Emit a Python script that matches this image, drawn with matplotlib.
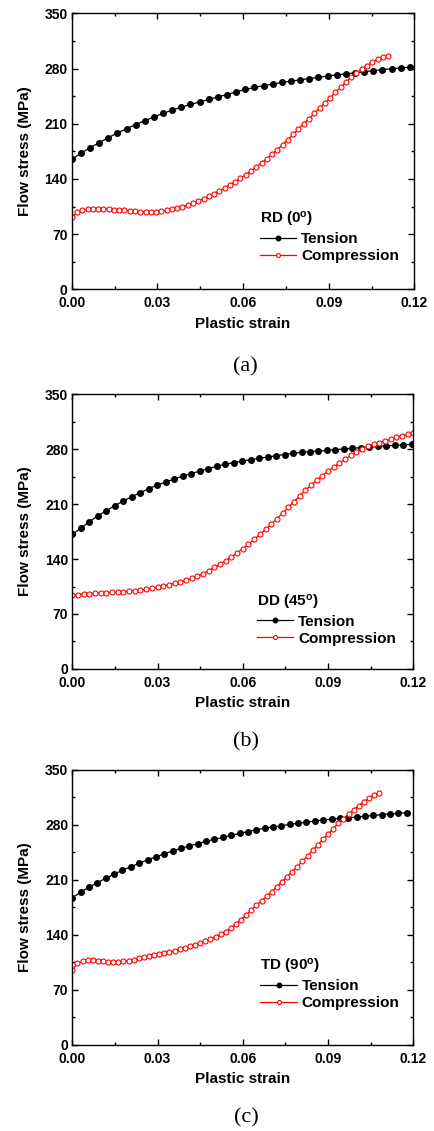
import numpy as np
import matplotlib
matplotlib.use("Agg")
import matplotlib.pyplot as plt
from matplotlib.ticker import MultipleLocator, FormatStrFormatter

# Flow stress (MPa) versus plastic strain, three loading directions
tension_rd = [165.0, 172.4, 179.5, 186.0, 192.2, 198.4, 203.6, 209.0, 213.8, 218.7,
              223.0, 227.2, 231.0, 234.5, 237.6, 240.8, 244.0, 247.0, 250.5, 253.5,
              256.0, 258.3, 260.3, 262.3, 264.0, 265.7, 267.3, 268.9, 270.5, 272.0,
              273.3, 274.6, 275.9, 277.3, 278.5, 279.7, 280.7, 281.8]
compression_rd = [92.0, 97.5, 100.0, 101.5, 102.2, 102.3, 102.0, 101.5, 101.0, 100.5,
                  100.0, 99.5, 99.0, 98.6, 98.4, 98.4, 98.6, 99.2, 100.2, 101.5,
                  103.0, 104.8, 107.0, 109.5, 112.2, 115.0, 118.0, 121.3, 124.8, 128.6,
                  132.5, 136.6, 141.0, 145.5, 150.0, 155.0, 160.3, 165.7, 171.4, 177.3,
                  183.5, 190.0, 196.6, 203.4, 210.0, 216.5, 223.0, 229.9, 236.5, 242.8,
                  250.0, 256.0, 263.0, 269.5, 274.5, 279.5, 283.7, 288.0, 291.8, 294.7,
                  296.2]

tension_dd = [171.4, 179.0, 187.5, 194.7, 201.5, 207.9, 213.8, 219.3, 224.4, 229.5,
              234.2, 238.0, 241.8, 245.6, 248.6, 252.0, 255.0, 258.0, 260.5, 262.6,
              264.7, 266.4, 268.1, 269.8, 271.5, 273.0, 274.5, 275.8, 276.7, 277.5,
              278.3, 279.1, 280.0, 280.9, 281.7, 282.5, 283.3, 284.1, 284.7, 285.2,
              286.0]
compression_dd = [94.0, 94.6, 95.3, 95.8, 96.2, 96.6, 97.0, 97.4, 97.8, 98.3,
                  98.9, 99.6, 100.5, 101.6, 102.8, 104.1, 105.6, 107.3, 109.1, 111.0,
                  113.0, 115.2, 118.0, 121.5, 125.2, 129.4, 133.6, 137.9, 142.5, 148.0,
                  153.1, 158.7, 165.0, 171.4, 177.8, 184.2, 191.3, 198.5, 205.8, 212.9,
                  220.2, 227.4, 233.8, 240.2, 246.0, 252.0, 257.1, 262.2, 266.9, 272.0,
                  276.2, 280.4, 283.4, 286.0, 288.0, 290.2, 292.3, 294.9, 296.9, 298.7,
                  300.0]

tension_td = [187.3, 194.3, 200.6, 206.5, 212.0, 217.3, 222.2, 226.8, 231.2, 235.4,
              239.3, 243.2, 246.8, 250.2, 253.2, 256.2, 259.0, 261.6, 264.2, 266.8,
              269.1, 271.6, 273.9, 275.8, 277.4, 279.0, 280.6, 282.1, 283.6, 285.0,
              286.3, 287.3, 288.3, 289.2, 290.1, 291.1, 292.1, 293.1, 294.0, 294.8,
              295.6]
compression_td = [95.0, 103.5, 106.3, 107.3, 107.4, 107.0, 106.5, 106.0, 105.7, 105.8,
                  106.3, 107.2, 108.5, 110.0, 111.5, 112.8, 114.1, 115.4, 116.7, 118.1,
                  119.9, 121.6, 123.4, 125.3, 127.5, 129.8, 132.3, 134.8, 137.6, 140.6,
                  144.2, 148.5, 154.0, 159.5, 165.5, 171.8, 177.5, 183.3, 189.0, 195.0,
                  201.5, 207.9, 214.0, 220.5, 227.0, 233.8, 240.8, 247.7, 254.7, 261.6,
                  268.2, 275.1, 282.2, 288.1, 293.7, 299.2, 304.7, 309.7, 313.8, 317.7,
                  320.9]

# last recorded plastic strain of each test (samples are evenly spaced from 0)
tension_end = [0.1184, 0.1195, 0.1177]
compression_end = [0.1108, 0.1200, 0.1080]

directions = ["RD (0$^\\mathrm{o}$)", "DD (45$^\\mathrm{o}$)", "TD (90$^\\mathrm{o}$)"]
panel_tags = ["(a)", "(b)", "(c)"]
series_names = ["Tension", "Compression"]
x_ticks = [0.00, 0.03, 0.06, 0.09, 0.12]
y_ticks = [0, 70, 140, 210, 280, 350]

plt.rcParams.update({
    "font.family": ["Liberation Sans", "DejaVu Sans"],
    "font.weight": "bold",
    "axes.labelweight": "bold",
    "mathtext.fontset": "custom",
    "mathtext.rm": "Liberation Sans:bold",
    "mathtext.bf": "Liberation Sans:bold",
    "mathtext.it": "Liberation Sans:bold",
})

fig = plt.figure(figsize=(4.35, 11.31), dpi=100)

axes_boxes = [
    [0.1648, 0.7442, 0.7878, 0.2440],
    [0.1662, 0.4085, 0.7839, 0.2431],
    [0.1662, 0.0763, 0.7839, 0.2429],
]
legend_anchor = [(0.549, 0.287), (0.541, 0.278), (0.551, 0.320)]
tag_pos = [(0.563, 0.6758), (0.5655, 0.3442), (0.5655, 0.0115)]

tensions = [tension_rd, tension_dd, tension_td]
compressions = [compression_rd, compression_dd, compression_td]

for k in range(3):
    ax = fig.add_axes(axes_boxes[k])
    t_vals = np.array(tensions[k])
    c_vals = np.array(compressions[k])
    t_strain = np.linspace(0.0, tension_end[k], len(t_vals))
    c_strain = np.linspace(0.0, compression_end[k], len(c_vals))

    ax.plot(t_strain, t_vals, "-o", color="black", lw=0.9, ms=4.0,
            mfc="black", mec="black", label=series_names[0])
    ax.plot(c_strain, c_vals, "-o", color="red", lw=0.9, ms=3.6,
            mfc="white", mec="red", mew=0.8, label=series_names[1])

    ax.set_xlim(x_ticks[0], x_ticks[-1])
    ax.set_ylim(y_ticks[0], y_ticks[-1])
    ax.set_xticks(x_ticks)
    ax.set_yticks(y_ticks)
    ax.xaxis.set_minor_locator(MultipleLocator(0.015))
    ax.yaxis.set_minor_locator(MultipleLocator(35))
    ax.xaxis.set_major_formatter(FormatStrFormatter("%.2f"))
    ax.tick_params(which="both", direction="in", top=True, right=True,
                   width=1.0, labelsize=10)
    ax.tick_params(axis="x", which="major", pad=5)
    ax.tick_params(axis="y", which="major", pad=3)
    ax.tick_params(which="major", length=4)
    ax.tick_params(which="minor", length=2.5)
    for sp in ax.spines.values():
        sp.set_linewidth(1.0)

    ax.set_xlabel("Plastic strain", fontsize=11)
    ax.set_ylabel("Flow stress (MPa)", fontsize=11)
    ax.xaxis.set_label_coords(0.5, -0.1)
    ax.yaxis.set_label_coords(-0.117, 0.5)

    leg = ax.legend(title=directions[k], loc="upper left",
                    bbox_to_anchor=legend_anchor[k], frameon=False,
                    fontsize=11, title_fontproperties={"weight": "bold", "size": 11},
                    handlelength=2.4, handletextpad=0.3, borderpad=0,
                    borderaxespad=0, labelspacing=0.2, alignment="left",
                    markerscale=0.8)

    fig.text(tag_pos[k][0], tag_pos[k][1], panel_tags[k], fontsize=16,
             family="Liberation Serif", weight="normal", ha="center", va="center")

fig.savefig("out.png", dpi=100)
